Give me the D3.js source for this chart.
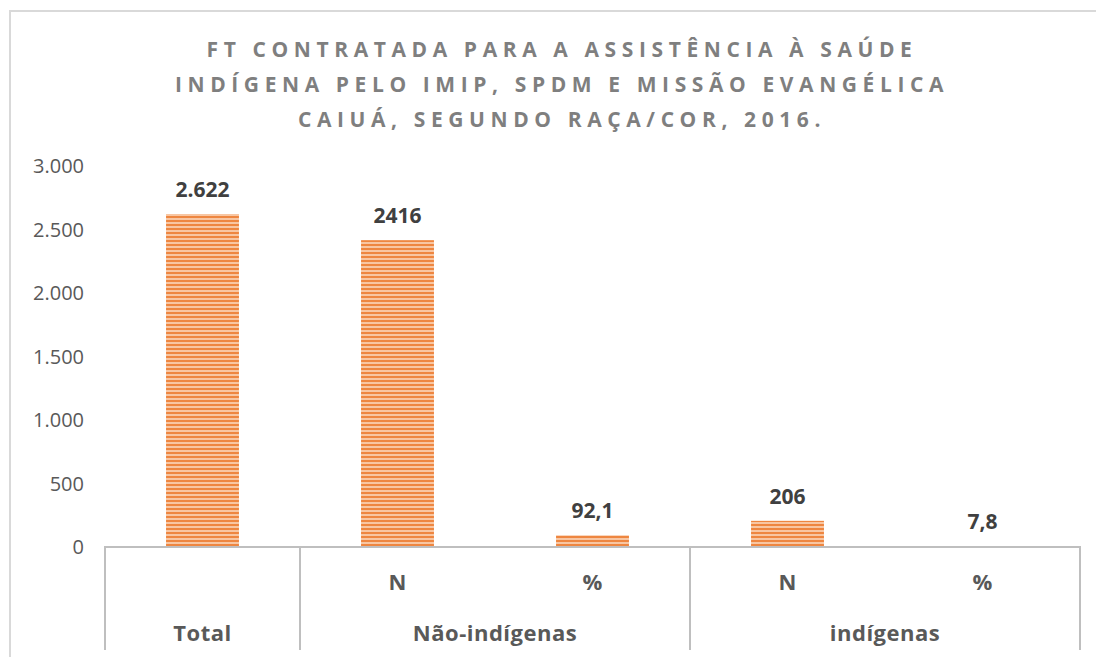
<!DOCTYPE html>
<html>
<head>
<meta charset="utf-8">
<script src="https://cdn.jsdelivr.net/npm/d3@7"></script>
<style>
  body { margin: 0; background: #fff; }
  svg { display: block; }
</style>
</head>
<body>
<div id="chart"></div>
<script>
// data
const titleLines = [
    'FT CONTRATADA PARA A ASSISTÊNCIA À SAÚDE',
    'INDÍGENA PELO IMIP, SPDM E MISSÃO EVANGÉLICA',
    'CAIUÁ, SEGUNDO RAÇA/COR, 2016.'
];
const categories = ['Total', 'Não-indígenas|N', 'Não-indígenas|%', 'indígenas|N', 'indígenas|%'];
const subLabels = ['', 'N', '%', 'N', '%'];
const groups = [
    { name: 'Total', members: ['Total'] },
    { name: 'Não-indígenas', members: ['Não-indígenas|N', 'Não-indígenas|%'] },
    { name: 'indígenas', members: ['indígenas|N', 'indígenas|%'] }
];
const values = [2622, 2416, 92.1, 206, 7.8];
const valueLabels = ['2.622', '2416', '92,1', '206', '7,8'];
const yTicks = [0, 500, 1000, 1500, 2000, 2500, 3000];

const width = 1096, height = 657;
const font = "'Open Sans', 'Liberation Sans', sans-serif";
const axisGray = '#bfbfbf';

const svg = d3.select('#chart').append('svg')
    .attr('width', width)
    .attr('height', height);

// stripe pattern for the bars
const defs = svg.append('defs');
const pat = defs.append('pattern')
    .attr('id', 'stripes')
    .attr('patternUnits', 'userSpaceOnUse')
    .attr('width', 6).attr('height', 4);
pat.append('rect').attr('width', 6).attr('height', 4).attr('fill', '#f8c6a2');
pat.append('rect').attr('width', 6).attr('height', 2).attr('fill', '#ee8640');

// chart border (runs off the right/bottom of the picture)
svg.append('rect')
    .attr('x', 10).attr('y', 11)
    .attr('width', 1100).attr('height', 660)
    .attr('fill', 'none')
    .attr('stroke', '#d9d9d9')
    .attr('stroke-width', 2);

// title
svg.append('text')
    .attr('text-anchor', 'middle')
    .style('font-family', font)
    .style('font-size', '21px')
    .style('font-weight', 'bold')
    .style('letter-spacing', '5.6px')
    .attr('fill', '#7f7f7f')
    .selectAll('tspan')
    .data(titleLines)
    .join('tspan')
    .attr('x', 562)
    .attr('y', (d, i) => 57 + i * 35)
    .text(d => d);

const x = d3.scaleBand()
    .domain(categories)
    .range([105, 1080])
    .paddingInner(0.626)
    .paddingOuter(0.313);

const y = d3.scaleLinear()
    .domain([0, 3000])
    .range([547, 166]);

// y tick labels, no axis line
svg.append('g')
    .selectAll('text')
    .data(yTicks)
    .join('text')
    .attr('x', 84)
    .attr('y', d => y(d) + 7)
    .attr('text-anchor', 'end')
    .style('font-family', font)
    .style('font-size', '20px')
    .attr('fill', '#595959')
    .text(d => d3.format(',')(d).replace(/,/g, '.'));

// bars
svg.append('g')
    .selectAll('rect')
    .data(values)
    .join('rect')
    .attr('x', (d, i) => x(categories[i]))
    .attr('width', x.bandwidth())
    .attr('y', d => y(d))
    .attr('height', d => y(0) - y(d))
    .attr('fill', 'url(#stripes)');

// value labels
svg.append('g')
    .selectAll('text')
    .data(values)
    .join('text')
    .attr('x', (d, i) => x(categories[i]) + x.bandwidth() / 2)
    .attr('y', d => y(d) - 17)
    .attr('text-anchor', 'middle')
    .style('font-family', font)
    .style('font-size', '21px')
    .style('font-weight', 'bold')
    .attr('fill', '#404040')
    .text((d, i) => valueLabels[i]);

// multi-level category axis
const axis = svg.append('g')
    .attr('stroke', axisGray)
    .attr('stroke-width', 2);

axis.append('line')
    .attr('x1', 104).attr('x2', 1081)
    .attr('y1', y(0)).attr('y2', y(0));

const step = x.step();
const bounds = [105];
groups.forEach(g => {
    const last = g.members[g.members.length - 1];
    bounds.push(x(last) - x.paddingInner() * step / 2 + step);
});
axis.selectAll('line.sep')
    .data(bounds)
    .join('line')
    .attr('class', 'sep')
    .attr('x1', d => d).attr('x2', d => d)
    .attr('y1', y(0)).attr('y2', 650);

svg.append('g')
    .selectAll('text')
    .data(subLabels)
    .join('text')
    .attr('x', (d, i) => x(categories[i]) + x.bandwidth() / 2)
    .attr('y', 590)
    .attr('text-anchor', 'middle')
    .style('font-family', font)
    .style('font-size', '22px')
    .style('font-weight', 'bold')
    .attr('fill', '#595959')
    .text(d => d);

svg.append('g')
    .selectAll('text')
    .data(groups)
    .join('text')
    .attr('x', (g, i) => (bounds[i] + bounds[i + 1]) / 2)
    .attr('y', 641)
    .attr('text-anchor', 'middle')
    .style('font-family', font)
    .style('font-size', '22px')
    .style('font-weight', 'bold')
    .style('letter-spacing', '0.5px')
    .attr('fill', '#595959')
    .text(g => g.name);
</script>
</body>
</html>
